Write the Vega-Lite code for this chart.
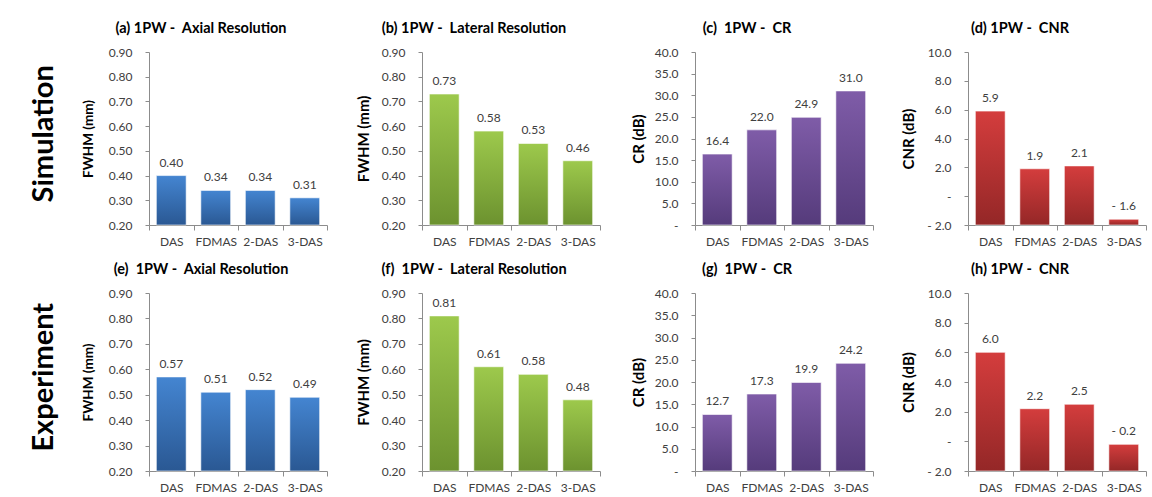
{
  "$schema": "https://vega.github.io/schema/vega-lite/v6.json",
  "background": "white",
  "padding": {"left": 30, "top": 20, "right": 0, "bottom": 0},
  "datasets": {
    "bars": [
      {"panel": "a", "method": "DAS", "value": 0.40, "label": "0.40"},
      {"panel": "a", "method": "FDMAS", "value": 0.34, "label": "0.34"},
      {"panel": "a", "method": "2-DAS", "value": 0.34, "label": "0.34"},
      {"panel": "a", "method": "3-DAS", "value": 0.31, "label": "0.31"},
      {"panel": "b", "method": "DAS", "value": 0.73, "label": "0.73"},
      {"panel": "b", "method": "FDMAS", "value": 0.58, "label": "0.58"},
      {"panel": "b", "method": "2-DAS", "value": 0.53, "label": "0.53"},
      {"panel": "b", "method": "3-DAS", "value": 0.46, "label": "0.46"},
      {"panel": "c", "method": "DAS", "value": 16.4, "label": "16.4"},
      {"panel": "c", "method": "FDMAS", "value": 22.0, "label": "22.0"},
      {"panel": "c", "method": "2-DAS", "value": 24.9, "label": "24.9"},
      {"panel": "c", "method": "3-DAS", "value": 31.0, "label": "31.0"},
      {"panel": "d", "method": "DAS", "value": 5.9, "label": "5.9"},
      {"panel": "d", "method": "FDMAS", "value": 1.9, "label": "1.9"},
      {"panel": "d", "method": "2-DAS", "value": 2.1, "label": "2.1"},
      {"panel": "d", "method": "3-DAS", "value": -1.6, "label": "- 1.6"},
      {"panel": "e", "method": "DAS", "value": 0.57, "label": "0.57"},
      {"panel": "e", "method": "FDMAS", "value": 0.51, "label": "0.51"},
      {"panel": "e", "method": "2-DAS", "value": 0.52, "label": "0.52"},
      {"panel": "e", "method": "3-DAS", "value": 0.49, "label": "0.49"},
      {"panel": "f", "method": "DAS", "value": 0.81, "label": "0.81"},
      {"panel": "f", "method": "FDMAS", "value": 0.61, "label": "0.61"},
      {"panel": "f", "method": "2-DAS", "value": 0.58, "label": "0.58"},
      {"panel": "f", "method": "3-DAS", "value": 0.48, "label": "0.48"},
      {"panel": "g", "method": "DAS", "value": 12.7, "label": "12.7"},
      {"panel": "g", "method": "FDMAS", "value": 17.3, "label": "17.3"},
      {"panel": "g", "method": "2-DAS", "value": 19.9, "label": "19.9"},
      {"panel": "g", "method": "3-DAS", "value": 24.2, "label": "24.2"},
      {"panel": "h", "method": "DAS", "value": 6.0, "label": "6.0"},
      {"panel": "h", "method": "FDMAS", "value": 2.2, "label": "2.2"},
      {"panel": "h", "method": "2-DAS", "value": 2.5, "label": "2.5"},
      {"panel": "h", "method": "3-DAS", "value": -0.2, "label": "- 0.2"}
    ]
  },
  "data": {"name": "bars"},
  "spacing": 14,
  "vconcat": [
    {
      "title": {"text": "Simulation", "orient": "left", "fontSize": 29, "fontWeight": "bold", "anchor": "middle", "frame": "bounds", "offset": 22, "dx": 0},
      "bounds": "flush",
      "spacing": 95,
      "hconcat": [
        {
          "width": 178, "height": 173,
          "title": {"text": "(a) 1PW -\u00a0 Axial Resolution"},
          "transform": [{"filter": "datum.panel == 'a'"}],
          "encoding": {
            "x": {"field": "method", "type": "nominal", "sort": ["DAS", "FDMAS", "2-DAS", "3-DAS"], "scale": {"paddingInner": 0, "paddingOuter": 0}},
            "y": {"field": "value", "type": "quantitative", "scale": {"domain": [0.2, 0.9], "zero": false, "nice": false},
                  "axis": {"title": "FWHM (mm)", "titleFontSize": 13.5, "titlePadding": 13, "values": [0.2, 0.3, 0.4, 0.5, 0.6, 0.7, 0.8, 0.9], "format": ".2f"}}
          },
          "layer": [
            {"mark": {"type": "bar", "width": {"band": 0.67}, "stroke": "#ffffff", "strokeOpacity": 0.6, "strokeWidth": 1,
              "color": {"gradient": "linear", "x1": 0, "y1": 0, "x2": 0, "y2": 1, "stops": [{"offset": 0, "color": "#4485d1"}, {"offset": 1, "color": "#2a5893"}]}},
             "encoding": {"y2": {"datum": 0.2}}},
            {"mark": {"type": "text", "baseline": "bottom", "dy": -6}, "encoding": {"text": {"field": "label"}}}
          ]
        },
        {
          "width": 178, "height": 173,
          "title": {"text": "(b) 1PW -\u00a0 Lateral Resolution"},
          "transform": [{"filter": "datum.panel == 'b'"}],
          "encoding": {
            "x": {"field": "method", "type": "nominal", "sort": ["DAS", "FDMAS", "2-DAS", "3-DAS"], "scale": {"paddingInner": 0, "paddingOuter": 0}},
            "y": {"field": "value", "type": "quantitative", "scale": {"domain": [0.2, 0.9], "zero": false, "nice": false},
                  "axis": {"title": "FWHM (mm)", "titleFontSize": 15, "titlePadding": 10, "values": [0.2, 0.3, 0.4, 0.5, 0.6, 0.7, 0.8, 0.9], "format": ".2f"}}
          },
          "layer": [
            {"mark": {"type": "bar", "width": {"band": 0.67}, "stroke": "#ffffff", "strokeOpacity": 0.6, "strokeWidth": 1,
              "color": {"gradient": "linear", "x1": 0, "y1": 0, "x2": 0, "y2": 1, "stops": [{"offset": 0, "color": "#9dc94c"}, {"offset": 1, "color": "#6c922f"}]}},
             "encoding": {"y2": {"datum": 0.2}}},
            {"mark": {"type": "text", "baseline": "bottom", "dy": -6}, "encoding": {"text": {"field": "label"}}}
          ]
        },
        {
          "width": 178, "height": 173,
          "title": {"text": "(c) \u00a01PW -\u00a0 CR"},
          "transform": [{"filter": "datum.panel == 'c'"}],
          "encoding": {
            "x": {"field": "method", "type": "nominal", "sort": ["DAS", "FDMAS", "2-DAS", "3-DAS"], "scale": {"paddingInner": 0, "paddingOuter": 0}},
            "y": {"field": "value", "type": "quantitative", "scale": {"domain": [0, 40], "nice": false},
                  "axis": {"title": "CR (dB)", "titleFontSize": 15, "titlePadding": 8, "values": [0, 5, 10, 15, 20, 25, 30, 35, 40], "labelExpr": "datum.value == 0 ? '-' : format(datum.value, '.1f')"}}
          },
          "layer": [
            {"mark": {"type": "bar", "width": {"band": 0.67}, "stroke": "#ffffff", "strokeOpacity": 0.6, "strokeWidth": 1,
              "color": {"gradient": "linear", "x1": 0, "y1": 0, "x2": 0, "y2": 1, "stops": [{"offset": 0, "color": "#7f5ca8"}, {"offset": 1, "color": "#553b7b"}]}},
             "encoding": {"y2": {"datum": 0}}},
            {"mark": {"type": "text", "baseline": "bottom", "dy": -6}, "encoding": {"text": {"field": "label"}}}
          ]
        },
        {
          "width": 178, "height": 173,
          "title": {"text": "(d) 1PW -\u00a0 CNR"},
          "transform": [{"filter": "datum.panel == 'd'"}],
          "encoding": {
            "x": {"field": "method", "type": "nominal", "sort": ["DAS", "FDMAS", "2-DAS", "3-DAS"], "scale": {"paddingInner": 0, "paddingOuter": 0}},
            "y": {"field": "value", "type": "quantitative", "scale": {"domain": [-2, 10], "nice": false, "zero": false},
                  "axis": {"title": "CNR (dB)", "titleFontSize": 15, "titlePadding": 10, "values": [-2, 0, 2, 4, 6, 8, 10], "labelExpr": "datum.value == 0 ? '-' : (datum.value < 0 ? '- ' + format(-datum.value, '.1f') : format(datum.value, '.1f'))"}}
          },
          "layer": [
            {"mark": {"type": "bar", "width": {"band": 0.67}, "stroke": "#ffffff", "strokeOpacity": 0.6, "strokeWidth": 1,
              "color": {"gradient": "linear", "x1": 0, "y1": 0, "x2": 0, "y2": 1, "stops": [{"offset": 0, "color": "#d43d3d"}, {"offset": 1, "color": "#942727"}]}},
             "encoding": {"y2": {"datum": -2}}},
            {"mark": {"type": "text", "baseline": "bottom", "dy": -6}, "encoding": {"text": {"field": "label"}}}
          ]
        }
      ]
    },
    {
      "title": {"text": "Experiment", "orient": "left", "fontSize": 29, "fontWeight": "bold", "anchor": "middle", "frame": "bounds", "offset": 22, "dx": 0},
      "bounds": "flush",
      "spacing": 95,
      "hconcat": [
        {
          "width": 178, "height": 178,
          "title": {"text": "(e) \u00a01PW -\u00a0 Axial Resolution"},
          "transform": [{"filter": "datum.panel == 'e'"}],
          "encoding": {
            "x": {"field": "method", "type": "nominal", "sort": ["DAS", "FDMAS", "2-DAS", "3-DAS"], "scale": {"paddingInner": 0, "paddingOuter": 0}},
            "y": {"field": "value", "type": "quantitative", "scale": {"domain": [0.2, 0.9], "zero": false, "nice": false},
                  "axis": {"title": "FWHM (mm)", "titleFontSize": 13.5, "titlePadding": 13, "values": [0.2, 0.3, 0.4, 0.5, 0.6, 0.7, 0.8, 0.9], "format": ".2f"}}
          },
          "layer": [
            {"mark": {"type": "bar", "width": {"band": 0.67}, "stroke": "#ffffff", "strokeOpacity": 0.6, "strokeWidth": 1,
              "color": {"gradient": "linear", "x1": 0, "y1": 0, "x2": 0, "y2": 1, "stops": [{"offset": 0, "color": "#4485d1"}, {"offset": 1, "color": "#2a5893"}]}},
             "encoding": {"y2": {"datum": 0.2}}},
            {"mark": {"type": "text", "baseline": "bottom", "dy": -6}, "encoding": {"text": {"field": "label"}}}
          ]
        },
        {
          "width": 178, "height": 178,
          "title": {"text": "(f) \u00a01PW -\u00a0 Lateral Resolution"},
          "transform": [{"filter": "datum.panel == 'f'"}],
          "encoding": {
            "x": {"field": "method", "type": "nominal", "sort": ["DAS", "FDMAS", "2-DAS", "3-DAS"], "scale": {"paddingInner": 0, "paddingOuter": 0}},
            "y": {"field": "value", "type": "quantitative", "scale": {"domain": [0.2, 0.9], "zero": false, "nice": false},
                  "axis": {"title": "FWHM (mm)", "titleFontSize": 15, "titlePadding": 10, "values": [0.2, 0.3, 0.4, 0.5, 0.6, 0.7, 0.8, 0.9], "format": ".2f"}}
          },
          "layer": [
            {"mark": {"type": "bar", "width": {"band": 0.67}, "stroke": "#ffffff", "strokeOpacity": 0.6, "strokeWidth": 1,
              "color": {"gradient": "linear", "x1": 0, "y1": 0, "x2": 0, "y2": 1, "stops": [{"offset": 0, "color": "#9dc94c"}, {"offset": 1, "color": "#6c922f"}]}},
             "encoding": {"y2": {"datum": 0.2}}},
            {"mark": {"type": "text", "baseline": "bottom", "dy": -6}, "encoding": {"text": {"field": "label"}}}
          ]
        },
        {
          "width": 178, "height": 178,
          "title": {"text": "(g) \u00a01PW -\u00a0 CR"},
          "transform": [{"filter": "datum.panel == 'g'"}],
          "encoding": {
            "x": {"field": "method", "type": "nominal", "sort": ["DAS", "FDMAS", "2-DAS", "3-DAS"], "scale": {"paddingInner": 0, "paddingOuter": 0}},
            "y": {"field": "value", "type": "quantitative", "scale": {"domain": [0, 40], "nice": false},
                  "axis": {"title": "CR (dB)", "titleFontSize": 15, "titlePadding": 8, "values": [0, 5, 10, 15, 20, 25, 30, 35, 40], "labelExpr": "datum.value == 0 ? '-' : format(datum.value, '.1f')"}}
          },
          "layer": [
            {"mark": {"type": "bar", "width": {"band": 0.67}, "stroke": "#ffffff", "strokeOpacity": 0.6, "strokeWidth": 1,
              "color": {"gradient": "linear", "x1": 0, "y1": 0, "x2": 0, "y2": 1, "stops": [{"offset": 0, "color": "#7f5ca8"}, {"offset": 1, "color": "#553b7b"}]}},
             "encoding": {"y2": {"datum": 0}}},
            {"mark": {"type": "text", "baseline": "bottom", "dy": -6}, "encoding": {"text": {"field": "label"}}}
          ]
        },
        {
          "width": 178, "height": 178,
          "title": {"text": "(h) 1PW -\u00a0 CNR"},
          "transform": [{"filter": "datum.panel == 'h'"}],
          "encoding": {
            "x": {"field": "method", "type": "nominal", "sort": ["DAS", "FDMAS", "2-DAS", "3-DAS"], "scale": {"paddingInner": 0, "paddingOuter": 0}},
            "y": {"field": "value", "type": "quantitative", "scale": {"domain": [-2, 10], "nice": false, "zero": false},
                  "axis": {"title": "CNR (dB)", "titleFontSize": 15, "titlePadding": 10, "values": [-2, 0, 2, 4, 6, 8, 10], "labelExpr": "datum.value == 0 ? '-' : (datum.value < 0 ? '- ' + format(-datum.value, '.1f') : format(datum.value, '.1f'))"}}
          },
          "layer": [
            {"mark": {"type": "bar", "width": {"band": 0.67}, "stroke": "#ffffff", "strokeOpacity": 0.6, "strokeWidth": 1,
              "color": {"gradient": "linear", "x1": 0, "y1": 0, "x2": 0, "y2": 1, "stops": [{"offset": 0, "color": "#d43d3d"}, {"offset": 1, "color": "#942727"}]}},
             "encoding": {"y2": {"datum": -2}}},
            {"mark": {"type": "text", "baseline": "bottom", "dy": -6}, "encoding": {"text": {"field": "label"}}}
          ]
        }
      ]
    }
  ],
  "config": {
    "font": "Lato",
    "view": {"stroke": null},
    "axis": {"labelFont": "Lato", "titleFont": "Lato", "labelColor": "#404040", "titleColor": "#000000", "domainColor": "#8c8c8c", "tickColor": "#8c8c8c", "grid": false, "labelFontSize": 12, "tickSize": 4},
    "axisX": {"tickBand": "extent", "labelAngle": 0, "title": null, "labelPadding": 6, "tickSize": 5},
    "axisY": {"labelPadding": 13, "titleFontWeight": "bold"},
    "title": {"font": "Lato", "fontSize": 14.5, "fontWeight": "bold", "color": "#000000", "frame": "group", "anchor": "middle", "offset": 10, "dx": -37},
    "text": {"font": "Lato", "fontSize": 12, "color": "#404040"}
  }
}
